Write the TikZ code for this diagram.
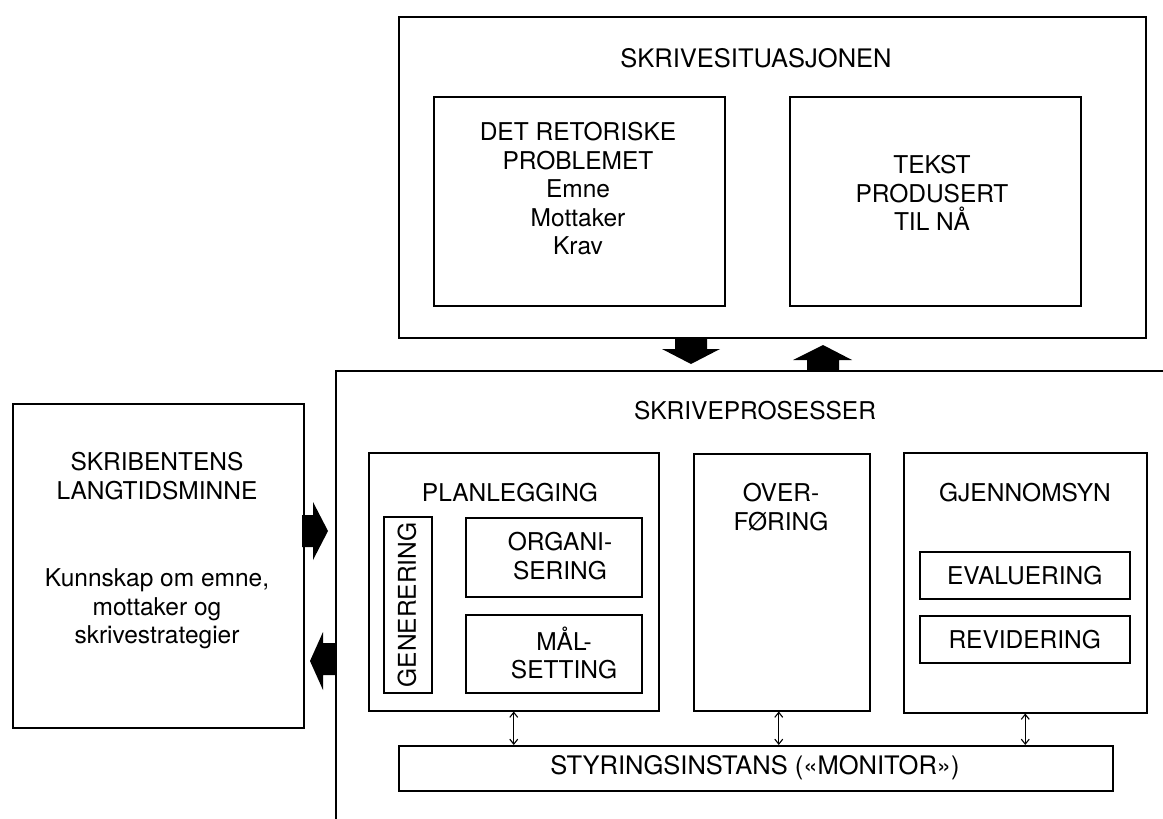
\documentclass[tikz,border=0pt]{standalone}
\usepackage{fontspec}
\setmainfont{TeX Gyre Heros}
\usetikzlibrary{arrows.meta}
\tikzset{
  box/.style={draw, line width=1.5pt, anchor=north west, inner sep=0pt},
  lbl/.style={align=center, inner sep=0pt, font=\fontsize{24.5}{28.5}\selectfont},
  blockarrow/.style={fill=black, draw=none},
  dbl/.style={{Straight Barb[length=5pt,width=8pt]}-{Straight Barb[length=5pt,width=8pt]}, line width=1.1pt}
}
\begin{document}
\begin{tikzpicture}[x=1pt,y=-1pt]
\useasboundingbox (0,0) rectangle (1163,819);
% top box
\node[box, minimum width=747, minimum height=321] (top) at (398,16) {};
\node[lbl, font=\fontsize{25.5}{28.5}\selectfont] (toptitle) at (756,58) {SKRIVESITUASJONEN};
\node[box, minimum width=291, minimum height=209] (ret) at (433,96) {};
\node[lbl] (rettxt) at (578,189) {DET RETORISKE\\PROBLEMET\\Emne\\Mottaker\\Krav};
\node[box, minimum width=291, minimum height=209] (tekst) at (789,96) {};
\node[lbl] (teksttxt) at (932,193) {TEKST\\PRODUSERT\\TIL NÅ};
% big process box (open to the right and bottom)
\begin{scope}
\clip (0,0) rectangle (1163,819);
\node[box, minimum width=900, minimum height=520] (big) at (335,370) {};
\end{scope}
\node[lbl] (bigtitle) at (755,411) {SKRIVEPROSESSER};
% memory box
\node[box, minimum width=291, minimum height=324] (mem) at (12,403) {};
\node[lbl] (memtitle) at (157,476) {SKRIBENTENS\\LANGTIDSMINNE};
\node[lbl] (memtxt) at (157,609) {Kunnskap om emne,\\mottaker og\\skrivestrategier};
% planning
\node[box, minimum width=290, minimum height=258] (plan) at (368,452) {};
\node[lbl] (plantitle) at (510,493) {PLANLEGGING};
\node[box, minimum width=48, minimum height=176] (gen) at (383,516) {};
\node[lbl, rotate=90] (gentxt) at (407,605) {GENERERING};
\node[box, minimum width=176, minimum height=79] (org) at (465,517) {};
\node[lbl] (orgtxt) at (560,556) {ORGANI-\\SERING};
\node[box, minimum width=176, minimum height=78] (mal) at (465,614) {};
\node[lbl] (maltxt) at (564,653) {MÅL-\\SETTING};
% transfer
\node[box, minimum width=176, minimum height=257] (over) at (693,453) {};
\node[lbl] (overtxt) at (781,507) {OVER-\\FØRING};
% review
\node[box, minimum width=243, minimum height=260] (gjen) at (903,452) {};
\node[lbl] (gjentitle) at (1025,493) {GJENNOMSYN};
\node[box, minimum width=210, minimum height=47] (eval) at (919,551) {};
\node[lbl] (evaltxt) at (eval.center) {EVALUERING};
\node[box, minimum width=210, minimum height=47] (rev) at (919,615) {};
\node[lbl] (revtxt) at (rev.center) {REVIDERING};
% monitor
\node[box, minimum width=714, minimum height=45] (mon) at (398,745) {};
\node[lbl, font=\fontsize{25.5}{28.5}\selectfont] (montxt) at (755,768) {STYRINGSINSTANS («MONITOR»)};
% double arrows to monitor
\draw[dbl] (plan.south) -- (plan.south |- mon.north);
\draw[dbl] ([xshift=-3pt]over.south) -- ([xshift=-3pt]over.south |- mon.north);
\draw[dbl] (gjen.south) -- (gjen.south |- mon.north);
% block arrows
\fill[blockarrow] (302,515) -- (313,515) -- (313,502) -- (328,531) -- (313,560) -- (313,547) -- (302,547) -- cycle;
\fill[blockarrow] (335,643) -- (323,643) -- (323,632) -- (310,661) -- (323,690) -- (323,675) -- (335,675) -- cycle;
\fill[blockarrow] (675,337) -- (707,337) -- (707,349) -- (720,349) -- (691,364) -- (662,349) -- (675,349) -- cycle;
\fill[blockarrow] (807,371) -- (807,360) -- (793,360) -- (823,345) -- (852,360) -- (839,360) -- (839,371) -- cycle;
\end{tikzpicture}
\end{document}
